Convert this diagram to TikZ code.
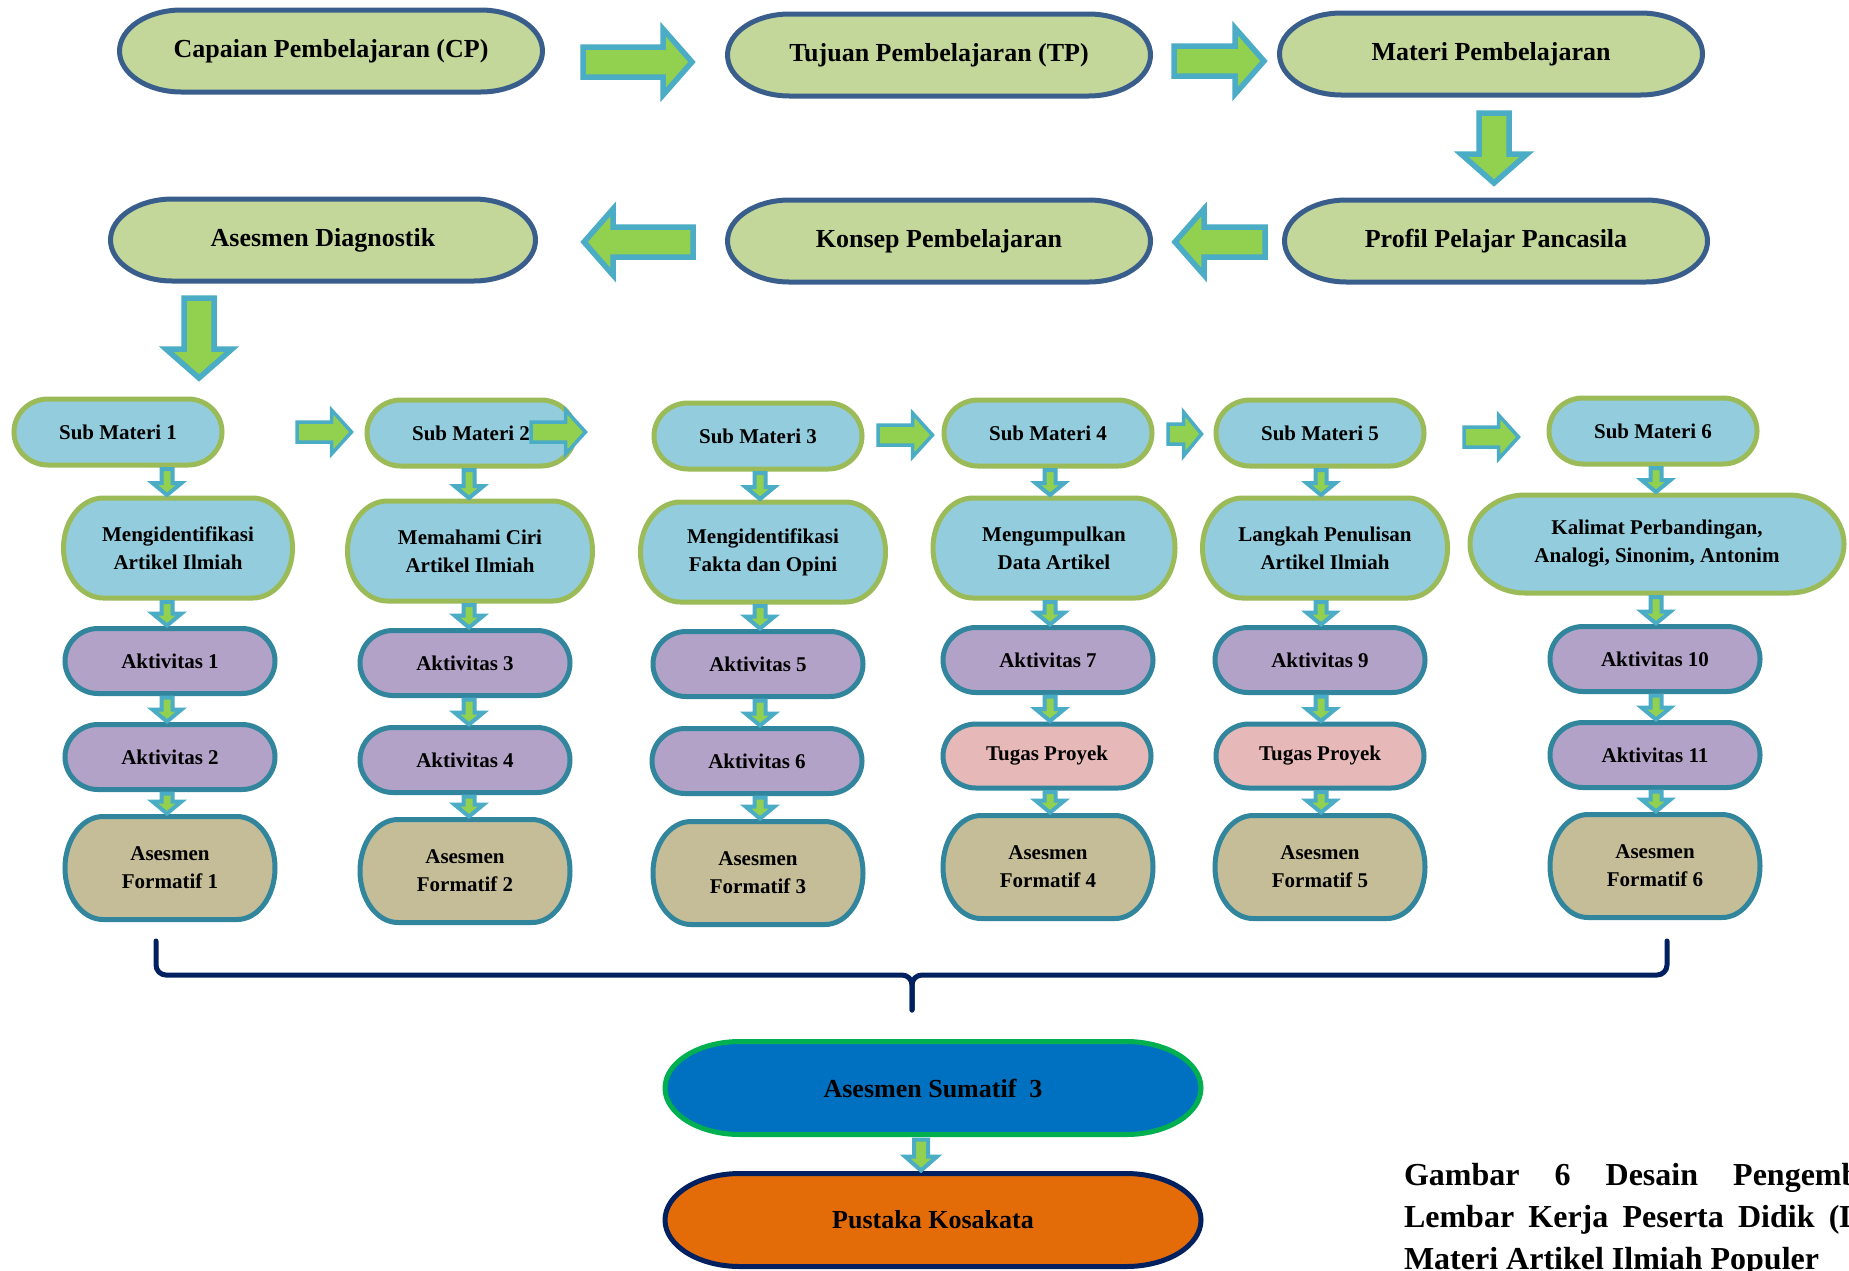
\documentclass[tikz,border=0pt]{standalone}
\usepackage{fontspec}
\setmainfont{Liberation Serif}
\usetikzlibrary{calc,backgrounds}
\definecolor{gfill}{HTML}{C4D79B}
\definecolor{navyb}{HTML}{3A5E8C}
\definecolor{sfill}{HTML}{93CDDD}
\definecolor{sborder}{HTML}{9BBB59}
\definecolor{afill}{HTML}{B3A2C7}
\definecolor{tborder}{HTML}{31859C}
\definecolor{pfill}{HTML}{E6B9B8}
\definecolor{ffill}{HTML}{C4BD97}
\definecolor{arrfill}{HTML}{92D050}
\definecolor{arrline}{HTML}{4BACC6}
\definecolor{sumfill}{HTML}{0070C0}
\definecolor{sumline}{HTML}{00B050}
\definecolor{pusfill}{HTML}{E36C09}
\definecolor{darknavy}{HTML}{002060}
% terminator-like node: #1 shape style, #2 text style, #3 name, #4 x,y, #5 w, #6 h, #7 end radius, #8 text
\newcommand\tnode[8]{%
  \node[#2, minimum width=#5pt, minimum height=#6pt] (#3) at (#4) {#8};
  \begin{scope}[on background layer]
    \draw[#1] ([xshift=#7pt]#3.north west) -- ([xshift=-#7pt]#3.north east)
      arc[start angle=90, end angle=-90, x radius=#7pt, y radius=#6pt/2]
      -- ([xshift=#7pt]#3.south west)
      arc[start angle=270, end angle=90, x radius=#7pt, y radius=#6pt/2] -- cycle;
  \end{scope}}
% horizontal block arrow: #1 style, #2 start, #3 tip, #4 body half, #5 head half, #6 signed head length
\newcommand\harrow[6]{%
  \draw[#1] let \p1=#2, \p2=#3 in
    (\x1,{\y1+#4}) -- ({\x2-(#6)},{\y1+#4}) -- ({\x2-(#6)},{\y1+#5}) -- (\x2,\y1)
    -- ({\x2-(#6)},{\y1-#5}) -- ({\x2-(#6)},{\y1-#4}) -- (\x1,{\y1-#4}) -- cycle;}
% downward block arrow
\newcommand\varrow[6]{%
  \draw[#1] let \p1=#2, \p2=#3 in
    ({\x1-#4},\y1) -- ({\x1-#4},{\y2+#6}) -- ({\x1-#5},{\y2+#6}) -- (\x1,\y2)
    -- ({\x1+#5},{\y2+#6}) -- ({\x1+#4},{\y2+#6}) -- ({\x1+#4},\y1) -- cycle;}
\newcommand\colarr[3]{%
  \varrow{smarr}{($(#1 |- #2.south)+(0,4)$)}{($(#1 |- #3.north)+(0,-3)$)}{5.5pt}{14.5pt}{12pt}}
\begin{document}
\begin{tikzpicture}[x=1pt,y=-1pt,
  gpill/.style={fill=gfill, draw=navyb, line width=5pt},
  spill/.style={fill=sfill, draw=sborder, line width=5pt},
  apill/.style={fill=afill, draw=tborder, line width=5pt},
  ppill/.style={fill=pfill, draw=tborder, line width=5pt},
  fpill/.style={fill=ffill, draw=tborder, line width=5pt},
  sumpill/.style={fill=sumfill, draw=sumline, line width=5pt},
  puspill/.style={fill=pusfill, draw=darknavy, line width=5pt},
  bigtxt/.style={inner sep=0pt, outer sep=0pt, align=center, font=\bfseries\fontsize{26}{32}\selectfont},
  txt/.style={inner sep=0pt, outer sep=0pt, align=center, font=\bfseries\fontsize{21}{28}\selectfont},
  captxt/.style={inner sep=0pt, outer sep=0pt, font=\bfseries\fontsize{32}{42}\selectfont},
  bigarr/.style={fill=arrfill, draw=arrline, line width=5.5pt},
  medarr/.style={fill=arrfill, draw=arrline, line width=3.5pt},
  smarr/.style={fill=arrfill, draw=arrline, line width=4pt},
  bracestyle/.style={draw=darknavy, line width=5pt, rounded corners=10pt, line cap=round}]
\useasboundingbox (0,0) rectangle (1849,1270);
\clip (0,0) rectangle (1849,1270);
\begin{scope}[on background layer]
  \fill[white] (0,0) rectangle (1849,1270);
\end{scope}

% Row 1 and 2
\tnode{gpill}{bigtxt}{cp}{331,51}{423}{82}{62}{Capaian Pembelajaran (CP)}
\tnode{gpill}{bigtxt}{tp}{939,55}{423}{82}{62}{Tujuan Pembelajaran (TP)}
\tnode{gpill}{bigtxt}{mp}{1491,54}{423}{82}{62}{Materi Pembelajaran}
\tnode{gpill}{bigtxt}{ad}{323,240}{425}{82}{62}{Asesmen Diagnostik}
\tnode{gpill}{bigtxt}{kp}{939,241}{423}{82}{62}{Konsep Pembelajaran}
\tnode{gpill}{bigtxt}{pp}{1496,241}{423}{82}{62}{Profil Pelajar Pancasila}

% Sub materi
\tnode{spill}{txt}{sm1}{118,432}{208}{66}{34}{Sub Materi 1}
\tnode{spill}{txt}{sm2}{471,433}{208}{66}{34}{Sub Materi 2}
\tnode{spill}{txt}{sm3}{758,436}{208}{66}{34}{Sub Materi 3}
\tnode{spill}{txt}{sm4}{1048,433}{208}{66}{34}{Sub Materi 4}
\tnode{spill}{txt}{sm5}{1320,433}{208}{66}{34}{Sub Materi 5}
\tnode{spill}{txt}{sm6}{1653,431}{208}{66}{34}{Sub Materi 6}

% Topics
\tnode{spill}{txt}{t1}{178,548}{229}{100}{40}{Mengidentifikasi\\Artikel Ilmiah}
\tnode{spill}{txt}{t2}{470,551}{245}{100}{40}{Memahami Ciri\\Artikel Ilmiah}
\tnode{spill}{txt}{t3}{763,552}{245}{100}{40}{Mengidentifikasi\\Fakta dan Opini}
\tnode{spill}{txt}{t4}{1054,548}{242}{100}{40}{Mengumpulkan\\Data Artikel}
\tnode{spill}{txt}{t5}{1325,548}{245}{100}{40}{Langkah Penulisan\\Artikel Ilmiah}
\tnode{spill}{txt}{t6}{1657,544}{374}{98}{55}{Kalimat Perbandingan,\\Analogi, Sinonim, Antonim}

% Activities
\tnode{apill}{txt}{a1}{170,661}{210}{65}{33}{Aktivitas 1}
\tnode{apill}{txt}{a3}{465,663}{210}{65}{33}{Aktivitas 3}
\tnode{apill}{txt}{a5}{758,664}{210}{65}{33}{Aktivitas 5}
\tnode{apill}{txt}{a7}{1048,660}{210}{65}{33}{Aktivitas 7}
\tnode{apill}{txt}{a9}{1320,660}{210}{65}{33}{Aktivitas 9}
\tnode{apill}{txt}{a10}{1655,659}{210}{65}{33}{Aktivitas 10}

\tnode{apill}{txt}{a2}{170,757}{210}{65}{33}{Aktivitas 2}
\tnode{apill}{txt}{a4}{465,760}{210}{65}{33}{Aktivitas 4}
\tnode{apill}{txt}{a6}{757,761}{210}{65}{33}{Aktivitas 6}
\tnode{ppill}{txt}{tp1}{1047,756}{208}{64}{33}{Tugas Proyek}
\tnode{ppill}{txt}{tp2}{1320,756}{208}{64}{33}{Tugas Proyek}
\tnode{apill}{txt}{a11}{1655,755}{210}{65}{33}{Aktivitas 11}

% Formative
\tnode{fpill}{txt}{af1}{170,868}{210}{103}{38}{Asesmen\\Formatif 1}
\tnode{fpill}{txt}{af2}{465,871}{210}{103}{38}{Asesmen\\Formatif 2}
\tnode{fpill}{txt}{af3}{758,873}{210}{103}{38}{Asesmen\\Formatif 3}
\tnode{fpill}{txt}{af4}{1048,867}{210}{103}{38}{Asesmen\\Formatif 4}
\tnode{fpill}{txt}{af5}{1320,867}{210}{103}{38}{Asesmen\\Formatif 5}
\tnode{fpill}{txt}{af6}{1655,866}{210}{103}{38}{Asesmen\\Formatif 6}

% Summative
\tnode{sumpill}{bigtxt}{sum}{933,1088}{536}{93}{75}{Asesmen Sumatif\ \ 3}
\tnode{puspill}{bigtxt}{pus}{933,1220}{536}{93}{75}{Pustaka Kosakata}

% Big arrows
\harrow{bigarr}{($(cp.east)+(40.5,11)$)}{($(tp.west)+(-35.5,0)$)}{15pt}{33pt}{29pt}
\harrow{bigarr}{($(tp.east)+(23.5,6)$)}{($(mp.west)+(-15.5,0)$)}{15pt}{33pt}{29pt}
\harrow{bigarr}{($(kp.west)+(-34.5,1)$)}{($(ad.east)+(48.5,0)$)}{15pt}{33pt}{-29pt}
\harrow{bigarr}{($(pp.west)+(-19.5,1)$)}{($(kp.east)+(24.5,0)$)}{15pt}{33pt}{-29pt}
\varrow{bigarr}{($(mp.south)+(3,18)$)}{($(pp.north)+(0,-17)$)}{15pt}{33pt}{29pt}
\varrow{bigarr}{($(ad.south)+(-124,17)$)}{($(sm1.north)+(0,-21)$)}{15pt}{33pt}{29pt}

% Column coordinates
\coordinate (c1) at (167,0);
\coordinate (c2) at (469,0);
\coordinate (c3) at (760,0);
\coordinate (c4) at (1050,0);
\coordinate (c5) at (1321,0);
\coordinate (c6) at (1656,0);

% Small column arrows
\colarr{c1}{sm1}{t1} \colarr{c1}{t1}{a1} \colarr{c1}{a1}{a2} \colarr{c1}{a2}{af1}
\colarr{c2}{sm2}{t2} \colarr{c2}{t2}{a3} \colarr{c2}{a3}{a4} \colarr{c2}{a4}{af2}
\colarr{c3}{sm3}{t3} \colarr{c3}{t3}{a5} \colarr{c3}{a5}{a6} \colarr{c3}{a6}{af3}
\colarr{c4}{sm4}{t4} \colarr{c4}{t4}{a7} \colarr{c4}{a7}{tp1} \colarr{c4}{tp1}{af4}
\colarr{c5}{sm5}{t5} \colarr{c5}{t5}{a9} \colarr{c5}{a9}{tp2} \colarr{c5}{tp2}{af5}
\colarr{c6}{sm6}{t6} \colarr{c6}{t6}{a10} \colarr{c6}{a10}{a11} \colarr{c6}{a11}{af6}

% Medium arrows between sub materi
\harrow{medarr}{($(sm1.east)+(75,0)$)}{($(sm2.west)+(-15.5,0)$)}{10pt}{22pt}{20pt}
\harrow{medarr}{($(sm2.east)+(-44,-1)$)}{($(sm3.west)+(-68.5,0)$)}{10pt}{22pt}{20pt}
\harrow{medarr}{($(sm3.east)+(16,-1)$)}{($(sm4.west)+(-11.5,0)$)}{10pt}{22pt}{20pt}
\harrow{medarr}{($(sm4.east)+(16,1)$)}{($(sm5.west)+(-14.5,0)$)}{10pt}{22pt}{18pt}
\harrow{medarr}{($(sm5.east)+(40,4)$)}{($(sm6.west)+(-30.5,0)$)}{10pt}{22pt}{20pt}

% Summative arrow
\varrow{smarr}{($(sum.south)+(-12,5)$)}{($(pus.north)+(0,-3)$)}{7pt}{16pt}{14pt}

% Brace
\coordinate (bl) at (156,941);
\coordinate (bm) at (912,975);
\coordinate (bt) at (912,1010);
\coordinate (br) at (1667,941);
\draw[bracestyle] (bl) |- (bm) -- (bt);
\draw[bracestyle] (br) |- (bm) -- (bt);

% Caption (cut off at the right edge, as in the reference)
\node[captxt, anchor=base west] (cap1) at (1404,1185) {\hbox to 539pt{Gambar\hfil 6\hfil Desain\hfil Pengembangan}};
\node[captxt, anchor=base west] (cap2) at (1404,1227) {\hbox to 535pt{Lembar\hfil Kerja\hfil Peserta\hfil Didik\hfil (LKPD)}};
\node[captxt, anchor=base west] (cap3) at (1404,1269) {Materi Artikel Ilmiah Populer};
\end{tikzpicture}
\end{document}
